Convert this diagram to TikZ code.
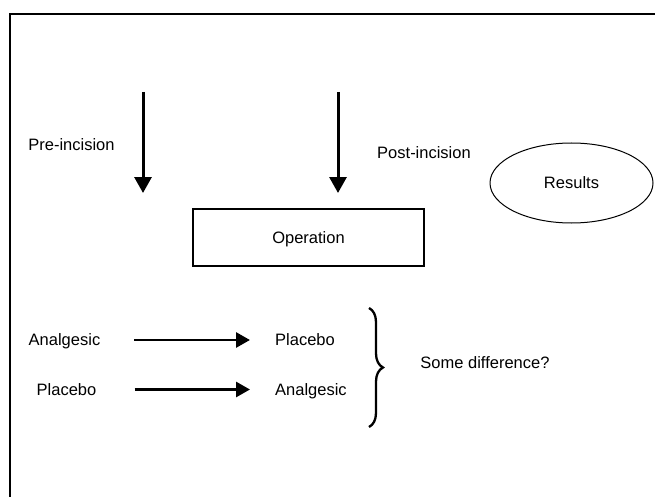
\documentclass[tikz,border=0pt]{standalone}
\usepackage{fontspec}
\setmainfont{Liberation Sans}
\usetikzlibrary{arrows.meta,shapes.geometric,decorations.pathreplacing}

\begin{document}
\begin{tikzpicture}[x=1pt, y=-1pt, font=\fontsize{16.5}{20}\selectfont,
    texto/.style={inner sep=0pt, text height=11.8pt, text depth=0pt},
    flecha/.style={line width=3pt, -{Triangle[length=16pt,width=17pt]}},
    flechita/.style={line width=2.8pt, -{Triangle[length=14pt,width=15pt]},
      shorten <=34pt, shorten >=25pt},
    llave/.style={line width=2.3pt, decorate, decoration={brace, amplitude=14pt}}]
  \useasboundingbox (0,0) rectangle (655,497);
  % el marco, solo arriba y a la izquierda
  \draw[line width=1.6pt] (655,14) -- (10,14) -- (10,497);
  % antes y despues de la incision
  \coordinate (preTop) at (143,92);
  \coordinate (preTip) at (143,193);
  \coordinate (postTop) at (338,92);
  \coordinate (postTip) at (338,193);
  \draw[flecha] (preTop) -- (preTip);
  \draw[flecha] (postTop) -- (postTip);
  \node[texto] (pre) at (71.5,145) {Pre-incision};
  \node[texto] (post) at (424,153) {Post-incision};
  % la operacion y los resultados
  \node[draw, line width=2.7pt, minimum width=231pt, minimum height=57pt,
    text height=11.8pt, text depth=0pt] (op) at (308.5,237.5) {Operation};
  \node[draw, ellipse, line width=1pt, minimum width=163pt, minimum height=80pt,
    text height=11.8pt, text depth=0pt] (res) at (571.5,183) {Results};
  % los dos ordenes
  \node[texto] (anaL) at (64.5,340) {Analgesic};
  \node[texto] (plaL) at (66.5,389.5) {Placebo};
  \node[texto, anchor=west] (plaR) at (275,340) {Placebo};
  \node[texto, anchor=west] (anaR) at (275,389.5) {Analgesic};
  \draw[flechita] (anaL) -- (plaR);
  \draw[flechita, shorten <=38pt] (plaL) -- (anaR);
  % la llave y la pregunta
  \coordinate (llaveA) at (369,308);
  \coordinate (llaveB) at (369,427);
  \draw[llave] (llaveA) -- (llaveB);
  \node[texto] (dif) at (485,363) {Some difference?};
\end{tikzpicture}
\end{document}
